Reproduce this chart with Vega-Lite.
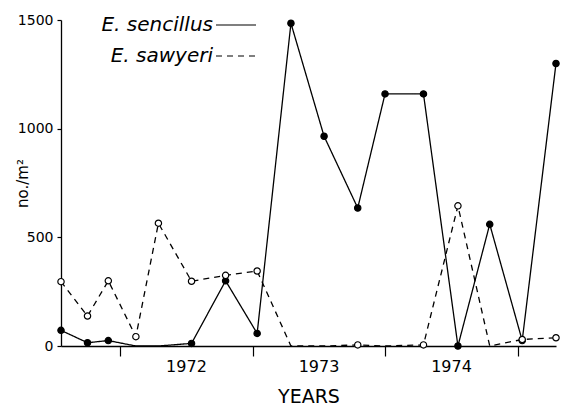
{
  "$schema": "https://vega.github.io/schema/vega-lite/v6.json",
  "width": 495,
  "height": 326,
  "autosize": {"type": "none"},
  "padding": {"left": 61, "top": 20, "right": 11, "bottom": 64},
  "background": "white",
  "config": {
    "view": {"stroke": null},
    "font": "DejaVu Sans",
    "axis": {"domainColor": "black", "tickColor": "black", "labelColor": "black", "titleColor": "black", "grid": false, "domainWidth": 1.3, "tickWidth": 1.2}
  },
  "datasets": {
    "trace": [
      {"species": "E. sencillus", "year": 1971.555, "n": 72},
      {"species": "E. sencillus", "year": 1971.755, "n": 15},
      {"species": "E. sencillus", "year": 1971.912, "n": 25},
      {"species": "E. sencillus", "year": 1972.12, "n": 0},
      {"species": "E. sencillus", "year": 1972.29, "n": 0},
      {"species": "E. sencillus", "year": 1972.54, "n": 12},
      {"species": "E. sencillus", "year": 1972.797, "n": 300},
      {"species": "E. sencillus", "year": 1973.035, "n": 58},
      {"species": "E. sencillus", "year": 1973.29, "n": 1485},
      {"species": "E. sencillus", "year": 1973.54, "n": 965},
      {"species": "E. sencillus", "year": 1973.794, "n": 635},
      {"species": "E. sencillus", "year": 1974.0, "n": 1160},
      {"species": "E. sencillus", "year": 1974.29, "n": 1160},
      {"species": "E. sencillus", "year": 1974.55, "n": 0},
      {"species": "E. sencillus", "year": 1974.79, "n": 560},
      {"species": "E. sencillus", "year": 1975.035, "n": 25},
      {"species": "E. sencillus", "year": 1975.29, "n": 1300},
      {"species": "E. sawyeri", "year": 1971.555, "n": 296},
      {"species": "E. sawyeri", "year": 1971.755, "n": 138},
      {"species": "E. sawyeri", "year": 1971.912, "n": 300},
      {"species": "E. sawyeri", "year": 1972.12, "n": 43},
      {"species": "E. sawyeri", "year": 1972.29, "n": 565},
      {"species": "E. sawyeri", "year": 1972.54, "n": 298},
      {"species": "E. sawyeri", "year": 1972.797, "n": 325},
      {"species": "E. sawyeri", "year": 1973.035, "n": 345},
      {"species": "E. sawyeri", "year": 1973.29, "n": 0},
      {"species": "E. sawyeri", "year": 1973.54, "n": 0},
      {"species": "E. sawyeri", "year": 1973.794, "n": 5},
      {"species": "E. sawyeri", "year": 1974.0, "n": 0},
      {"species": "E. sawyeri", "year": 1974.29, "n": 5},
      {"species": "E. sawyeri", "year": 1974.55, "n": 645},
      {"species": "E. sawyeri", "year": 1974.79, "n": 0},
      {"species": "E. sawyeri", "year": 1975.035, "n": 30},
      {"species": "E. sawyeri", "year": 1975.29, "n": 38}
    ],
    "samples": [
      {"species": "E. sencillus", "year": 1971.555, "n": 72},
      {"species": "E. sencillus", "year": 1971.755, "n": 15},
      {"species": "E. sencillus", "year": 1971.912, "n": 25},
      {"species": "E. sencillus", "year": 1972.54, "n": 12},
      {"species": "E. sencillus", "year": 1972.797, "n": 300},
      {"species": "E. sencillus", "year": 1973.035, "n": 58},
      {"species": "E. sencillus", "year": 1973.29, "n": 1485},
      {"species": "E. sencillus", "year": 1973.54, "n": 965},
      {"species": "E. sencillus", "year": 1973.794, "n": 635},
      {"species": "E. sencillus", "year": 1974.0, "n": 1160},
      {"species": "E. sencillus", "year": 1974.29, "n": 1160},
      {"species": "E. sencillus", "year": 1974.55, "n": 0},
      {"species": "E. sencillus", "year": 1974.79, "n": 560},
      {"species": "E. sencillus", "year": 1975.035, "n": 25},
      {"species": "E. sencillus", "year": 1975.29, "n": 1300},
      {"species": "E. sawyeri", "year": 1971.555, "n": 296},
      {"species": "E. sawyeri", "year": 1971.755, "n": 138},
      {"species": "E. sawyeri", "year": 1971.912, "n": 300},
      {"species": "E. sawyeri", "year": 1972.12, "n": 43},
      {"species": "E. sawyeri", "year": 1972.29, "n": 565},
      {"species": "E. sawyeri", "year": 1972.54, "n": 298},
      {"species": "E. sawyeri", "year": 1972.797, "n": 325},
      {"species": "E. sawyeri", "year": 1973.035, "n": 345},
      {"species": "E. sawyeri", "year": 1973.794, "n": 5},
      {"species": "E. sawyeri", "year": 1974.29, "n": 5},
      {"species": "E. sawyeri", "year": 1974.55, "n": 645},
      {"species": "E. sawyeri", "year": 1975.035, "n": 30},
      {"species": "E. sawyeri", "year": 1975.29, "n": 38}
    ]
  },
  "encoding": {
    "x": {
      "field": "year", "type": "quantitative",
      "scale": {"domain": [1971.555, 1975.29], "nice": false, "zero": false},
      "axis": {
        "title": "YEARS", "titleFontSize": 19, "titleFontWeight": "normal", "titlePadding": 13,
        "values": [1972, 1973, 1974, 1975],
        "labelExpr": "datum.value < 1975 ? format(datum.value, 'd') : ''",
        "labelOffset": 66, "labelFontSize": 16, "labelPadding": 2,
        "tickSize": 10, "labelFlush": false, "labelOverlap": false
      }
    },
    "y": {
      "field": "n", "type": "quantitative",
      "scale": {"domain": [0, 1500], "nice": false},
      "axis": {
        "title": "no./m²", "titleFontSize": 15, "titleFontWeight": "normal",
        "titleX": -39, "titleY": 163, "titleAngle": 270, "titleAlign": "center", "titleBaseline": "middle",
        "values": [0, 500, 1000, 1500], "format": "d", "tickSize": 4, "labelFontSize": 14, "labelPadding": 4
      }
    }
  },
  "layer": [
    {
      "data": {"name": "trace"},
      "mark": {"type": "line", "color": "black", "strokeWidth": 1.3},
      "encoding": {
        "detail": {"field": "species"},
        "strokeDash": {
          "field": "species", "type": "nominal",
          "scale": {"domain": ["E. sencillus", "E. sawyeri"], "range": [[1, 0], [6, 5]]},
          "legend": {
            "title": null, "orient": "none", "legendX": 154, "legendY": -16,
            "symbolType": "stroke", "symbolSize": 1600, "symbolStrokeColor": "black", "symbolStrokeWidth": 1.2,
            "labelAlign": "right", "labelOffset": -44, "labelFontSize": 20, "labelFontStyle": "italic",
            "labelColor": "black", "rowPadding": 0, "labelLimit": 300
          }
        }
      }
    },
    {
      "data": {"name": "samples"},
      "mark": {"type": "point", "shape": "circle", "size": 40, "stroke": "black", "strokeWidth": 1.2, "opacity": 1},
      "encoding": {
        "fill": {
          "field": "species", "type": "nominal",
          "scale": {"domain": ["E. sencillus", "E. sawyeri"], "range": ["black", "white"]},
          "legend": null
        }
      }
    }
  ]
}
